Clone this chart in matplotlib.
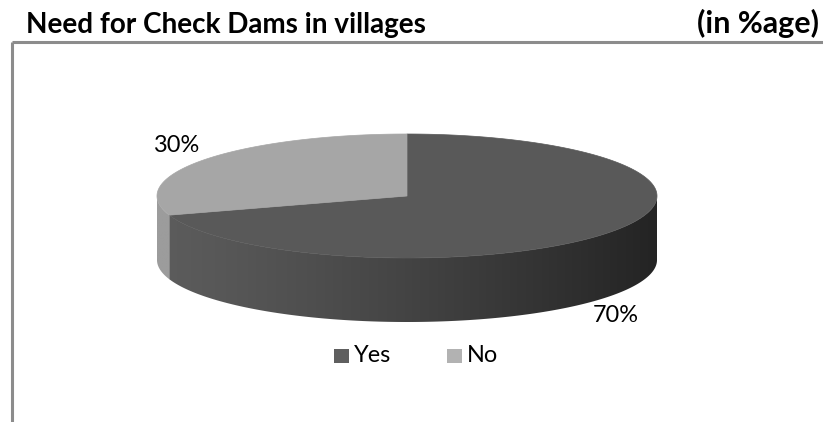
import numpy as np
import matplotlib.pyplot as plt
from matplotlib.patches import Polygon, Rectangle
from matplotlib.colors import LinearSegmentedColormap

# survey answers
labels = ['Yes', 'No']
values = [70, 30]
top_colors = ['#595959', '#a6a6a6']
side_colors = [('#5c5c5c', '#242424'), ('#9c9c9c', '#9c9c9c')]
legend_colors = ['#5f5f5f', '#b2b2b2']

plt.rcParams['font.family'] = ['Lato', 'DejaVu Sans']

fig = plt.figure(figsize=(8.23, 4.22), dpi=100)
ax = fig.add_axes([0, 0, 1, 1])
ax.set_xlim(0, 823)
ax.set_ylim(422, 0)
ax.axis('off')
renderer = fig.canvas.get_renderer()


def fit_size(s, width, **kw):
    # font size that makes s about `width` pixels wide
    t = ax.text(0, 0, s, fontsize=10, **kw)
    w = t.get_window_extent(renderer).width
    t.remove()
    return 10 * width / w


# frame around the chart area (only left and top edges show)
ax.plot([12, 12], [422, 42], color='#8c8c8c', lw=2.2, solid_capstyle='butt')
ax.plot([12, 823], [42, 42], color='#8c8c8c', lw=2.2, solid_capstyle='butt')

title = 'Need for Check Dams in villages'
ax.text(26, 33, title, fontsize=fit_size(title, 402, fontweight='bold'), fontweight='bold')
ax.text(819, 33, '(in %age)', fontsize=fit_size('(in %age)', 122, fontweight='bold'),
        fontweight='bold', ha='right')

# 3d pie geometry in pixels
cx, cy, a, b, depth = 407, 196, 250, 62, 64


def ell(t):
    t = np.radians(t)
    return cx + a * np.cos(t), cy - b * np.sin(t)


# slices go clockwise from 12 o'clock
start = 90.0
spans = []
for v in values:
    span = 360.0 * v / sum(values)
    spans.append((start - span, start))
    start -= span

# side walls: only the front half (180..360 deg) is visible
for (t0, t1), (c0, c1) in zip(spans, side_colors):
    lo, hi = t0 % 360, t1 % 360
    if hi <= lo:
        hi += 360
    for s0, s1 in [(180, 360), (540, 720)]:
        u0, u1 = max(lo, s0), min(hi, s1)
        if u1 <= u0:
            continue
        ts = np.linspace(u0, u1, 200)
        xs, ys = ell(ts)
        pts = list(zip(xs, ys)) + list(zip(xs[::-1], ys[::-1] + depth))
        wall = Polygon(pts, closed=True, fc='none', ec='none')
        ax.add_patch(wall)
        cmap = LinearSegmentedColormap.from_list('wall', [c0, c1])
        grad = np.linspace(0, 1, 256).reshape(1, -1) ** 1.2
        im = ax.imshow(grad, cmap=cmap, aspect='auto', interpolation='bilinear',
                       extent=[cx - a, cx + a, cy + b + depth, cy - b])
        im.set_clip_path(wall)

ax.set_xlim(0, 823)
ax.set_ylim(422, 0)

# top faces
for (t0, t1), col in zip(spans, top_colors):
    ts = np.linspace(t0, t1, 300)
    xs, ys = ell(ts)
    pts = [(cx, cy)] + list(zip(xs, ys))
    ax.add_patch(Polygon(pts, closed=True, fc=col, ec=col, lw=0.5))

# percentage labels
label_size = fit_size('30%', 46)
ax.text(199, 145, f'{values[1]}%', fontsize=label_size, ha='right', va='center')
ax.text(593, 315, f'{values[0]}%', fontsize=label_size, ha='left', va='center')

# legend
for x, lab, col in zip([334, 447], labels, legend_colors):
    ax.add_patch(Rectangle((x, 349), 15, 14, fc=col, ec='none'))
    ax.text(x + 20, 356, lab, fontsize=label_size, va='center')

fig.savefig('out.png', dpi=100)
